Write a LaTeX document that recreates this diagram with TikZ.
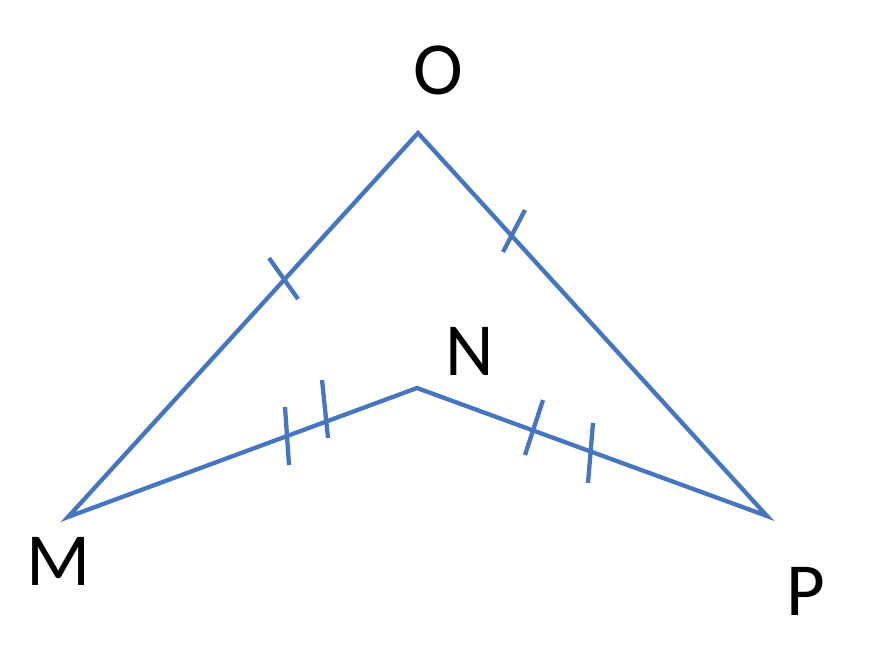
\documentclass[tikz,border=0pt]{standalone}
\usepackage{fontspec}
\setmainfont{Carlito}
\usepackage{tikz}
\definecolor{sideblue}{RGB}{70,118,192}

\begin{document}
\begin{tikzpicture}[x=1pt, y=-1pt,
    side/.style = {draw=sideblue, line width=4.3pt, line join=miter},
    tickmark/.style = {draw=sideblue, line width=4.3pt},
    vlabel/.style = {inner sep=0pt, font=\fontsize{75}{80}\selectfont}]
        \useasboundingbox (0,0) rectangle (878,667);

        % vertices
        \coordinate (O) at (418,133);
        \coordinate (M) at (68,517);
        \coordinate (N) at (417,388);
        \coordinate (P) at (767,516);

        % labels
        \node (lO) [vlabel] at (438,70) {O};
        \node (lN) [vlabel] at (470,351) {N};
        \node (lM) [vlabel] at (59,561) {M};
        \node (lP) [vlabel] at (806,591) {P};

        % sides
        \draw [side] (M) -- (O) -- (P) -- (N) -- cycle;

        % equal marks
        \draw [tickmark] (269,258) -- (298,299);
        \draw [tickmark] (525,210) -- (503,252);
        \draw [tickmark] (285,407) -- (289,465);
        \draw [tickmark] (322,380) -- (328,438);
        \draw [tickmark] (543,400) -- (525,455);
        \draw [tickmark] (593,423) -- (588,483);
    \end{tikzpicture}
\end{document}
